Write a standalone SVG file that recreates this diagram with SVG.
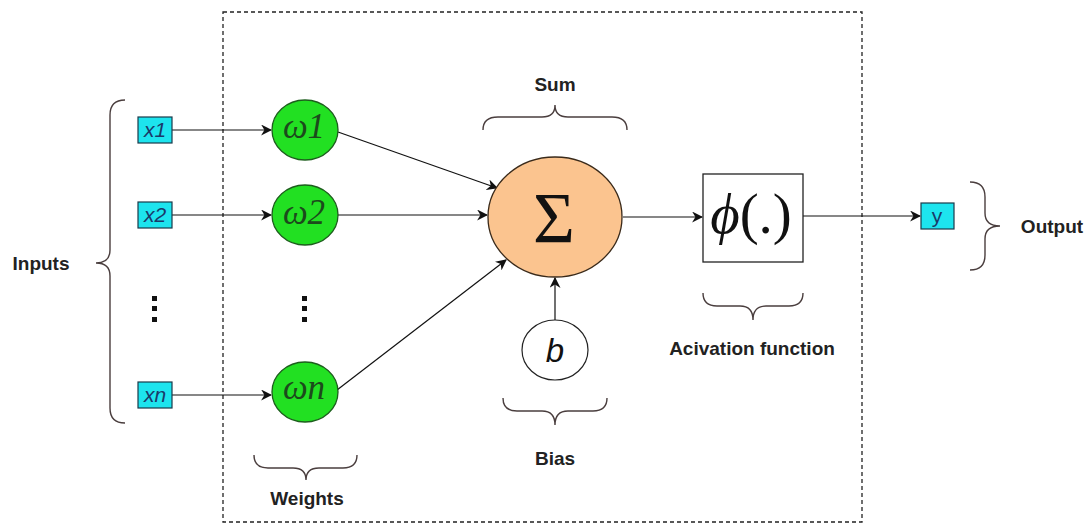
<svg xmlns="http://www.w3.org/2000/svg" width="1088" height="525" viewBox="0 0 1088 525">
<style>
.lbl{font-family:"Liberation Sans",Arial,sans-serif;font-weight:bold;font-size:19px;fill:#222;text-anchor:middle}
.box{fill:#1de4ee;stroke:#1a3a4a;stroke-width:1.2}
.boxt{font-family:"Liberation Sans",Arial,sans-serif;font-style:italic;font-size:21px;fill:#1a3a6a;text-anchor:middle}
.w{fill:#22e022;stroke:#1d5e1d;stroke-width:1.3}
.wt{font-family:"Liberation Serif","Times New Roman",serif;font-style:italic;font-size:35px;fill:#1c4a1c;text-anchor:middle}
.br{fill:none;stroke:#4a3e3e;stroke-width:1.4}
.ln{fill:none;stroke:#111;stroke-width:1.2}
.dot{fill:#111}
</style>
<defs>
<marker id="ah" viewBox="0 0 10 10" refX="9" refY="5" markerWidth="11" markerHeight="11" markerUnits="userSpaceOnUse" orient="auto">
<path d="M0,0 L10,5 L0,10 L3,5 Z" fill="#111"/>
</marker>
</defs>
<rect x="0" y="0" width="1088" height="525" fill="#fff"/>
<rect id="frame" x="223" y="12" width="639" height="510" fill="none" stroke="#222" stroke-width="1.3" stroke-dasharray="4 3"/>
<g id="connectors">
<line class="ln" x1="172" y1="130" x2="271" y2="130" marker-end="url(#ah)"/>
<line class="ln" x1="172" y1="215" x2="271" y2="215" marker-end="url(#ah)"/>
<line class="ln" x1="172" y1="395" x2="271" y2="395" marker-end="url(#ah)"/>
<line class="ln" x1="338" y1="132" x2="497" y2="188" marker-end="url(#ah)"/>
<line class="ln" x1="338" y1="215" x2="487" y2="215" marker-end="url(#ah)"/>
<line class="ln" x1="337" y1="390" x2="506" y2="260" marker-end="url(#ah)"/>
<line class="ln" x1="555" y1="320" x2="555" y2="278" marker-end="url(#ah)"/>
<line class="ln" x1="623" y1="217" x2="702" y2="217" marker-end="url(#ah)"/>
<line class="ln" x1="803" y1="216" x2="920" y2="216" marker-end="url(#ah)"/>
</g>
<g id="inputs">
<path class="br" d="M125,100 Q110,100 110,115 L110,250 Q110,263 96,263 Q110,263 110,276 L110,408 Q110,423 125,423"/>
<text class="lbl" x="41" y="270">Inputs</text>
</g>
<g id="x1"><rect class="box" x="138" y="117" width="34" height="26"/><text class="boxt" x="155" y="137">x1</text></g>
<g id="x2"><rect class="box" x="138" y="202" width="34" height="26"/><text class="boxt" x="155" y="222">x2</text></g>
<g id="xdots"><rect class="dot" x="152" y="296" width="5" height="5"/><rect class="dot" x="152" y="306" width="5" height="5"/><rect class="dot" x="152" y="317" width="5" height="5"/></g>
<g id="xn"><rect class="box" x="138" y="382" width="34" height="26"/><text class="boxt" x="155" y="402">xn</text></g>
<g id="w1"><ellipse class="w" cx="305" cy="130" rx="33" ry="30"/><text class="wt" x="304" y="138">ω1</text></g>
<g id="w2"><ellipse class="w" cx="305" cy="215" rx="33" ry="30"/><text class="wt" x="304" y="224">ω2</text></g>
<g id="wdots"><rect class="dot" x="302" y="296" width="5" height="5"/><rect class="dot" x="302" y="306" width="5" height="5"/><rect class="dot" x="302" y="317" width="5" height="5"/></g>
<g id="wn"><ellipse class="w" cx="305" cy="392" rx="33" ry="30"/><text class="wt" x="304" y="399">ωn</text></g>
<g id="weights">
<path class="br" d="M254,455 Q254,468 268,468 L293,468 Q306,468 306,480 Q306,468 319,468 L343,468 Q357,468 357,455"/>
<text class="lbl" x="307" y="505">Weights</text>
</g>
<g id="sum">
<ellipse cx="555" cy="217" rx="67" ry="60" fill="#fbc48f" stroke="#3a2a1a" stroke-width="1.3"/>
<text x="554" y="242" font-family="'Liberation Serif','Times New Roman',serif" font-size="72" fill="#111" text-anchor="middle">Σ</text>
<path class="br" d="M483,130 Q483,117 498,117 L542,117 Q555,117 555,105 Q555,117 568,117 L612,117 Q627,117 627,130"/>
<text class="lbl" x="555" y="91">Sum</text>
</g>
<g id="bias">
<ellipse cx="555" cy="350" rx="33" ry="30" fill="#fff" stroke="#222" stroke-width="1.2"/>
<text x="555" y="362" font-family="'Liberation Sans',Arial,sans-serif" font-style="italic" font-size="33" fill="#111" text-anchor="middle">b</text>
<path class="br" d="M503,398 Q503,411 517,411 L542,411 Q555,411 555,425 Q555,411 568,411 L593,411 Q607,411 607,398"/>
<text class="lbl" x="555" y="465">Bias</text>
</g>
<g id="activation">
<rect x="703" y="174" width="100" height="88" fill="#fff" stroke="#222" stroke-width="1.3"/>
<text x="751" y="233" font-family="'Liberation Serif','Times New Roman',serif" font-size="57" fill="#111" text-anchor="middle"><tspan font-style="italic">ϕ</tspan>(.)</text>
<path class="br" d="M703,293 Q703,306 717,306 L740,306 Q753,306 753,320 Q753,306 766,306 L789,306 Q803,306 803,293"/>
<text class="lbl" x="752" y="355">Acivation function</text>
</g>
<g id="y"><rect class="box" x="921" y="203" width="33" height="26"/><text x="937" y="223" font-family="'Liberation Sans',Arial,sans-serif" font-size="21" fill="#1a3a6a" text-anchor="middle">y</text></g>
<g id="output">
<path class="br" d="M970,182 Q985,182 985,197 L985,213 Q985,226 1000,226 Q985,226 985,239 L985,255 Q985,270 970,270"/>
<text class="lbl" x="1052" y="233">Output</text>
</g>
</svg>
